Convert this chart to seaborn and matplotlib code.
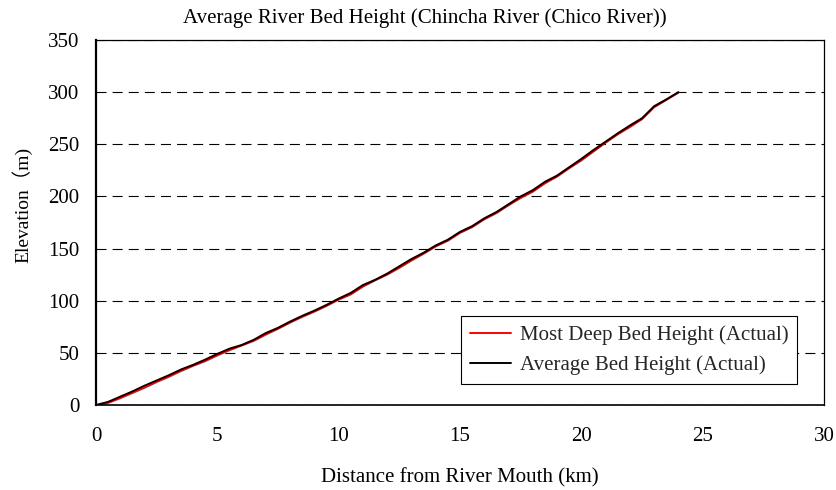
import matplotlib
matplotlib.use("Agg")
import matplotlib.pyplot as plt
import numpy as np
import pandas as pd
import seaborn as sns

# Distance from river mouth (km) and bed elevations (m)
distance_km = [0.0, 0.5, 1.0, 1.5, 2.0, 2.5, 3.0, 3.5, 4.0, 4.5,
               5.0, 5.5, 6.0, 6.5, 7.0, 7.5, 8.0, 8.5, 9.0, 9.5,
               10.0, 10.5, 11.0, 11.5, 12.0, 12.5, 13.0, 13.5, 14.0, 14.5,
               15.0, 15.5, 16.0, 16.5, 17.0, 17.5, 18.0, 18.5, 19.0, 19.5,
               20.0, 20.5, 21.0, 21.5, 22.0, 22.5, 23.0, 23.5, 24.0]

deepest_bed = [-1.0, 2.0, 6.5, 11.5, 16.5, 22.0, 27.0, 32.5, 37.5, 42.0,
               47.5, 52.5, 57.0, 61.5, 67.5, 73.0, 79.0, 84.5, 89.5, 95.0,
               101.0, 106.0, 113.5, 119.5, 125.0, 131.5, 138.5, 145.0, 152.0, 157.5,
               165.0, 170.5, 178.0, 184.0, 191.5, 198.5, 204.5, 212.5, 219.0, 227.0,
               234.5, 243.0, 251.5, 259.5, 266.5, 274.0, 285.5, 292.5, 299.5]

average_bed = [0.0, 3.0, 8.0, 13.0, 18.5, 23.5, 28.5, 34.0, 38.5, 43.5,
               49.0, 54.0, 57.5, 62.5, 69.0, 74.0, 80.0, 85.5, 90.5, 96.0,
               102.0, 107.5, 115.0, 120.0, 126.0, 133.0, 140.0, 146.0, 153.0, 158.5,
               166.0, 171.5, 179.0, 185.0, 192.5, 200.0, 206.0, 214.0, 220.0, 228.0,
               236.0, 244.5, 252.5, 260.5, 268.0, 275.0, 286.5, 293.0, 300.0]

series_names = ["Most Deep Bed Height (Actual)", "Average Bed Height (Actual)"]
series_colors = ["#ff0000", "#000000"]

x_ticks = [0, 5, 10, 15, 20, 25, 30]
y_ticks = [0, 50, 100, 150, 200, 250, 300, 350]

df = pd.DataFrame({
    "Distance": distance_km * 2,
    "Elevation": deepest_bed + average_bed,
    "Series": [series_names[0]] * len(distance_km) + [series_names[1]] * len(distance_km),
})

sns.set_theme(style="white")
plt.rcParams["font.family"] = ["Liberation Serif", "Noto Sans CJK JP"]

fig = plt.figure(figsize=(8.37, 4.90), dpi=100)
ax = fig.add_axes([0.1147, 0.1735, 0.8698, 0.7449])

sns.lineplot(data=df, x="Distance", y="Elevation", hue="Series",
             hue_order=series_names, palette=series_colors,
             linewidth=1.4, ax=ax, legend=True)

ax.set_xlim(0, 30)
ax.set_ylim(0, 350)
ax.set_xticks(x_ticks)
ax.set_yticks(y_ticks)
ax.tick_params(axis="both", direction="in", length=5, width=0.8, colors="black",
               labelsize=15)
ax.tick_params(axis="x", pad=16)
ax.tick_params(axis="y", pad=12)

for s in ax.spines.values():
    s.set_color("black")
    s.set_linewidth(0.9)
ax.spines["left"].set_linewidth(1.6)
ax.spines["bottom"].set_linewidth(1.2)

# Dashed horizontal reference lines
ax.yaxis.grid(True, color="black", linestyle=(0, (9, 5.5)), linewidth=0.8)
ax.xaxis.grid(False)
ax.set_axisbelow(True)

ax.set_xlabel("Distance from River Mouth (km)", fontsize=15, labelpad=16, color="black")
ax.set_ylabel("Elevation（m)", fontsize=14, color="black")
ax.yaxis.set_label_coords(-0.088, 0.548)
fig.text(0.507, 0.962, "Average River Bed Height (Chincha River (Chico River))",
         ha="center", va="center", fontsize=15, color="black")

leg = ax.legend(loc="lower right", bbox_to_anchor=(0.963, 0.058), fontsize=15,
                frameon=True, fancybox=False, edgecolor="black", framealpha=1,
                handlelength=2.0, borderpad=0.42, labelspacing=0.5, handletextpad=0.4,
                borderaxespad=0)
leg.get_frame().set_linewidth(0.8)
for line in leg.get_lines():
    line.set_linewidth(1.4)

fig.savefig("out.png", dpi=100, facecolor="white")
